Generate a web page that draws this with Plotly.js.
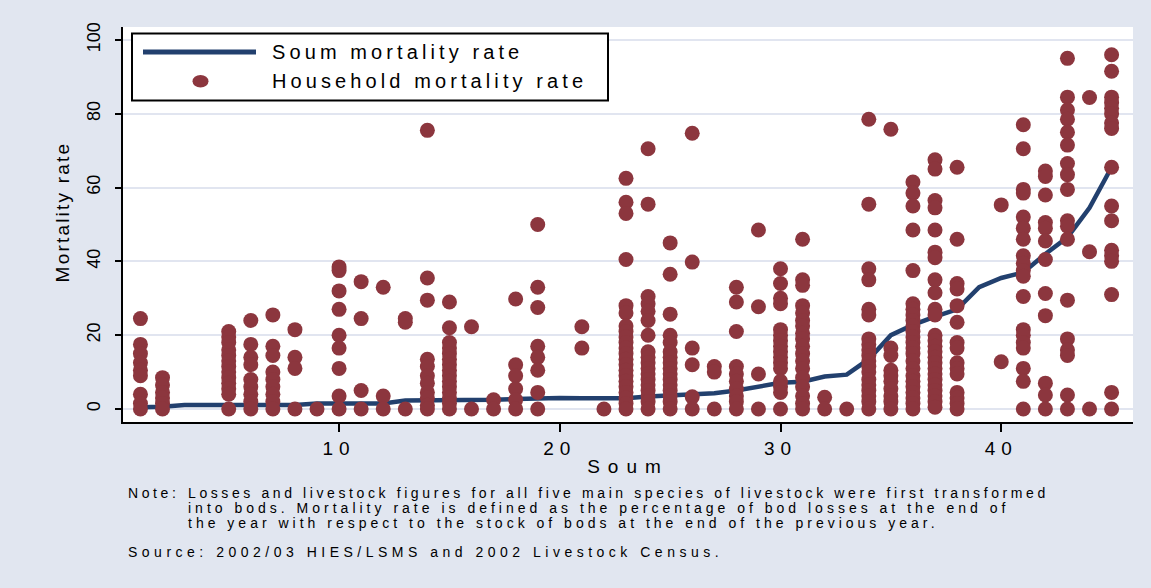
<!DOCTYPE html>
<html>
<head>
<meta charset="utf-8">
<script src="https://cdn.plot.ly/plotly-3.0.1.min.js"></script>
<style>
  html, body { margin: 0; padding: 0; background: #e1e6f0; }
  #chart { width: 1151px; height: 588px; }
  .xtick text { letter-spacing: 6px; }
  .g-xtitle text { letter-spacing: 8px; }
</style>
</head>
<body>
<div id="chart"></div>
<script>
// Soum-level mortality rate (%), soums 1..45
const soumIds = [1,2,3,4,5,6,7,8,9,10,11,12,13,14,15,16,17,18,19,20,21,22,23,24,25,26,27,28,29,30,31,32,33,34,35,36,37,38,39,40,41,42,43,44,45];
const soumRate = [0.5,0.6,1.1,1.1,1.1,1.1,1.1,1.1,1.5,1.5,1.5,1.5,2.3,2.3,2.4,2.4,2.5,2.7,2.9,3.0,2.9,2.9,2.9,3.4,3.7,3.9,4.3,5.0,6.2,7.1,7.4,8.8,9.3,13.5,20,22.8,25,27,33,35.5,37,42,46.5,54.5,65.5];

// Household-level mortality rates (%), grouped by soum
const householdSoums = [1,2,5,6,7,8,9,10,11,12,13,14,15,16,17,18,19,21,22,23,24,25,26,27,28,29,30,31,32,33,34,35,36,37,38,40,41,42,43,44,45];
const householdRates = [
  [24.5,17.5,15,12.5,10.5,9,4,1.5,0],
  [8.5,6.5,4.5,3,1.5,0],
  [21,19.5,18,16,14.5,13,11.5,10,8.5,7,5.5,4,0],
  [24,17.5,14,12,8,6,4,2,0],
  [25.5,17,14.5,10,8,6,4,2,0],
  [21.5,14,11,0],
  [0],
  [38.5,37.5,32,27,20,16.5,11,3.5,0],
  [34.5,24.5,5,0],
  [33,3.5,0],
  [24.5,23.5,0],
  [75.5,35.5,29.5,13.5,11.5,9,7,4.5,3,1,0],
  [29,22,18,16.5,15,13.5,12,10.5,9,7.5,6,4.5,3,1.5,0],
  [22.3,0],
  [2.5,0],
  [29.8,12,9,5.5,2.5,0],
  [50,33,27.5,17,14,10.5,4.5,0],
  [22.3,16.5],
  [0],
  [62.5,56,53,40.5,28,26,22.5,21,19.5,18,16.5,15,13.5,12,10.5,9,7.5,6,4.5,3,1.5,0],
  [70.5,55.5,30.5,28.5,26.5,24,20,15.5,14,12.5,11,9.5,8,6.5,5,3.5,2,0],
  [45,36.5,25.7,20,18,15.5,14,12.5,11,9.5,8,6.5,5,3.5,2,0],
  [74.7,39.8,16.5,12,3.3,0],
  [11.5,10,0],
  [33,29,21,11.5,9.5,7.5,5.5,3.5,2,0],
  [48.5,27.7,9.5,0],
  [38,34,30,28.5,21.5,20,18.5,17,15.5,14,12.5,11,7.5,6,4.5,0],
  [46,35,33.5,28,26,24,22.5,20.5,19,17,15,13,11,8.5,6,3.5,1.5,0],
  [3.2,0],
  [0],
  [78.5,55.5,38,35,27,25.5,19,17.5,16,14.5,13,11.5,10,8,6.5,5,3.5,2,0],
  [75.8,16.5,14.5,10.5,9,7.5,5.5,3.5,2,0],
  [61.5,58.5,55,48.5,37.5,28.5,27,25.5,24,22.5,21,19.5,18,16.5,15,13,11,9,7.5,6,4.5,3,1.5,0],
  [67.5,65,56.5,54.5,48.5,42.5,41,35,31.5,27,25.5,20,18.5,17,15.5,14,12.5,11,9.5,8,6.5,5,3.5,2,0.5],
  [65.5,46,34,32.5,28,23.5,18,16.5,12.5,11,9.5,4.5,3,1.5,0],
  [55.3,12.8],
  [77,70.5,59.5,58.5,52,49,46,41.5,39.5,37.5,36,30.5,21.5,20,18,16.5,11,7.5,0],
  [64.5,63,58,50.5,49,45.5,40.5,31.3,25.3,7,3.8,0],
  [95,84.5,81,78.5,75,71.5,66.5,63.5,59.5,51,49.5,46,29.5,19,16,14.5,3.8,0],
  [84.4,42.6,0],
  [96,91.5,84.5,83,81.5,80,77.5,76,65.5,55,51,43,41.5,40,31,4.5,0]
];

const yTicks = [0,20,40,60,80,100];
const xTicks = [10,20,30,40];
const yTitle = 'Mortality rate';
const xTitle = 'Soum';
const legendLabels = ['Soum mortality rate', 'Household mortality rate'];
const noteLines = [
  'Losses and livestock figures for all five main species of livestock were first transformed',
  'into bods. Mortality rate is defined as the percentage of bod losses at the end of',
  'the year with respect to the stock of bods at the end of the previous year.'
];
const sourceText = 'Source: 2002/03 HIES/LSMS and 2002 Livestock Census.';

// flatten household points
const hhX = [], hhY = [];
householdSoums.forEach((s, i) => {
  householdRates[i].forEach(v => { hhX.push(s); hhY.push(v); });
});

const NAVY = '#22406e';
const MAROON = '#8c363e';
const BG = '#e1e6f0';
const FONT = 'Liberation Sans, Arial, sans-serif';

// plot box in pixels
const W = 1151, H = 588;
const L = 123, R = 18, T = 27, B = 166;
const PW = W - L - R, PH = H - T - B;
const px = x => (x - L) / PW;
const py = y => (H - B - y) / PH;

const traces = [
  {
    x: soumIds, y: soumRate, type: 'scatter', mode: 'lines',
    name: legendLabels[0],
    line: { color: NAVY, width: 4.5 },
    showlegend: false, hoverinfo: 'skip'
  },
  {
    x: hhX, y: hhY, type: 'scatter', mode: 'markers',
    name: legendLabels[1],
    marker: { color: MAROON, size: 15, line: { width: 0 } },
    showlegend: false, hoverinfo: 'skip'
  }
];

const annotations = [];
const spacing = [];
function addText(text, x, y, size, ls, opts) {
  annotations.push(Object.assign({
    text: text, xref: 'paper', yref: 'paper', x: px(x), y: py(y),
    xanchor: 'left', yanchor: 'middle', align: 'left', showarrow: false,
    font: { family: FONT, size: size, color: '#000' }
  }, opts || {}));
  spacing.push(ls);
}
// key labels
addText(legendLabels[0], 270, 52, 20, 4.1);
addText(legendLabels[1], 270, 81.3, 20, 4.1);
// note and source
addText('Note:', 126, 493, 14, 3.6);
addText(noteLines[0], 186, 493, 14, 3.6);
addText(noteLines[1], 186, 508, 14, 4.0);
addText(noteLines[2], 186, 523, 14, 4.0);
addText(sourceText, 126, 552, 14, 4.5);
// vertical axis title
addText(yTitle, 62, 212, 19, 2.2, { textangle: -90, xanchor: 'center', align: 'center' });

const shapes = [
  { type: 'rect', xref: 'paper', yref: 'paper', x0: px(132), x1: px(608), y0: py(33.5), y1: py(100.5),
    fillcolor: '#ffffff', line: { color: '#000', width: 2 }, layer: 'above' },
  { type: 'line', xref: 'paper', yref: 'paper', x0: px(143), x1: px(256), y0: py(52), y1: py(52),
    line: { color: NAVY, width: 5 }, layer: 'above' },
  { type: 'circle', xref: 'paper', yref: 'paper', x0: px(192.5), x1: px(208.5), y0: py(75), y1: py(87.5),
    fillcolor: MAROON, line: { width: 0 }, layer: 'above' }
];

const layout = {
  width: W, height: H,
  margin: { l: L, r: R, t: T, b: B, pad: 0 },
  paper_bgcolor: BG, plot_bgcolor: '#ffffff',
  font: { family: FONT, size: 18, color: '#000' },
  showlegend: false,
  xaxis: {
    range: [0.21, 45.97], tickvals: xTicks, ticktext: xTicks.map(String),
    ticks: 'outside', ticklen: 8, tickwidth: 2, tickcolor: '#000',
    showline: true, linecolor: '#000', linewidth: 2,
    showgrid: false, zeroline: false,
    tickfont: { family: FONT, size: 19, color: '#000' },
    ticklabelstandoff: 0,
    title: { text: xTitle, font: { family: FONT, size: 19, color: '#000' }, standoff: 2 }
  },
  yaxis: {
    range: [-3.52, 103.5], tickvals: yTicks, ticktext: yTicks.map(String),
    tickangle: -90,
    ticks: 'outside', ticklen: 6, tickwidth: 2, tickcolor: '#000',
    showline: true, linecolor: '#000', linewidth: 2,
    showgrid: true, gridcolor: '#e1e5f0', gridwidth: 2, zeroline: false,
    tickfont: { family: FONT, size: 18, color: '#000' },
    ticklabelstandoff: 8
  },
  shapes: shapes,
  annotations: annotations
};

Plotly.newPlot('chart', traces, layout, { staticPlot: true, displayModeBar: false }).then(gd => {
  gd.querySelectorAll('g.annotation').forEach(g => {
    const i = +g.getAttribute('data-index');
    const t = g.querySelector('text.annotation-text');
    if (t && spacing[i] !== undefined) t.style.letterSpacing = spacing[i] + 'px';
  });
});
</script>
</body>
</html>
